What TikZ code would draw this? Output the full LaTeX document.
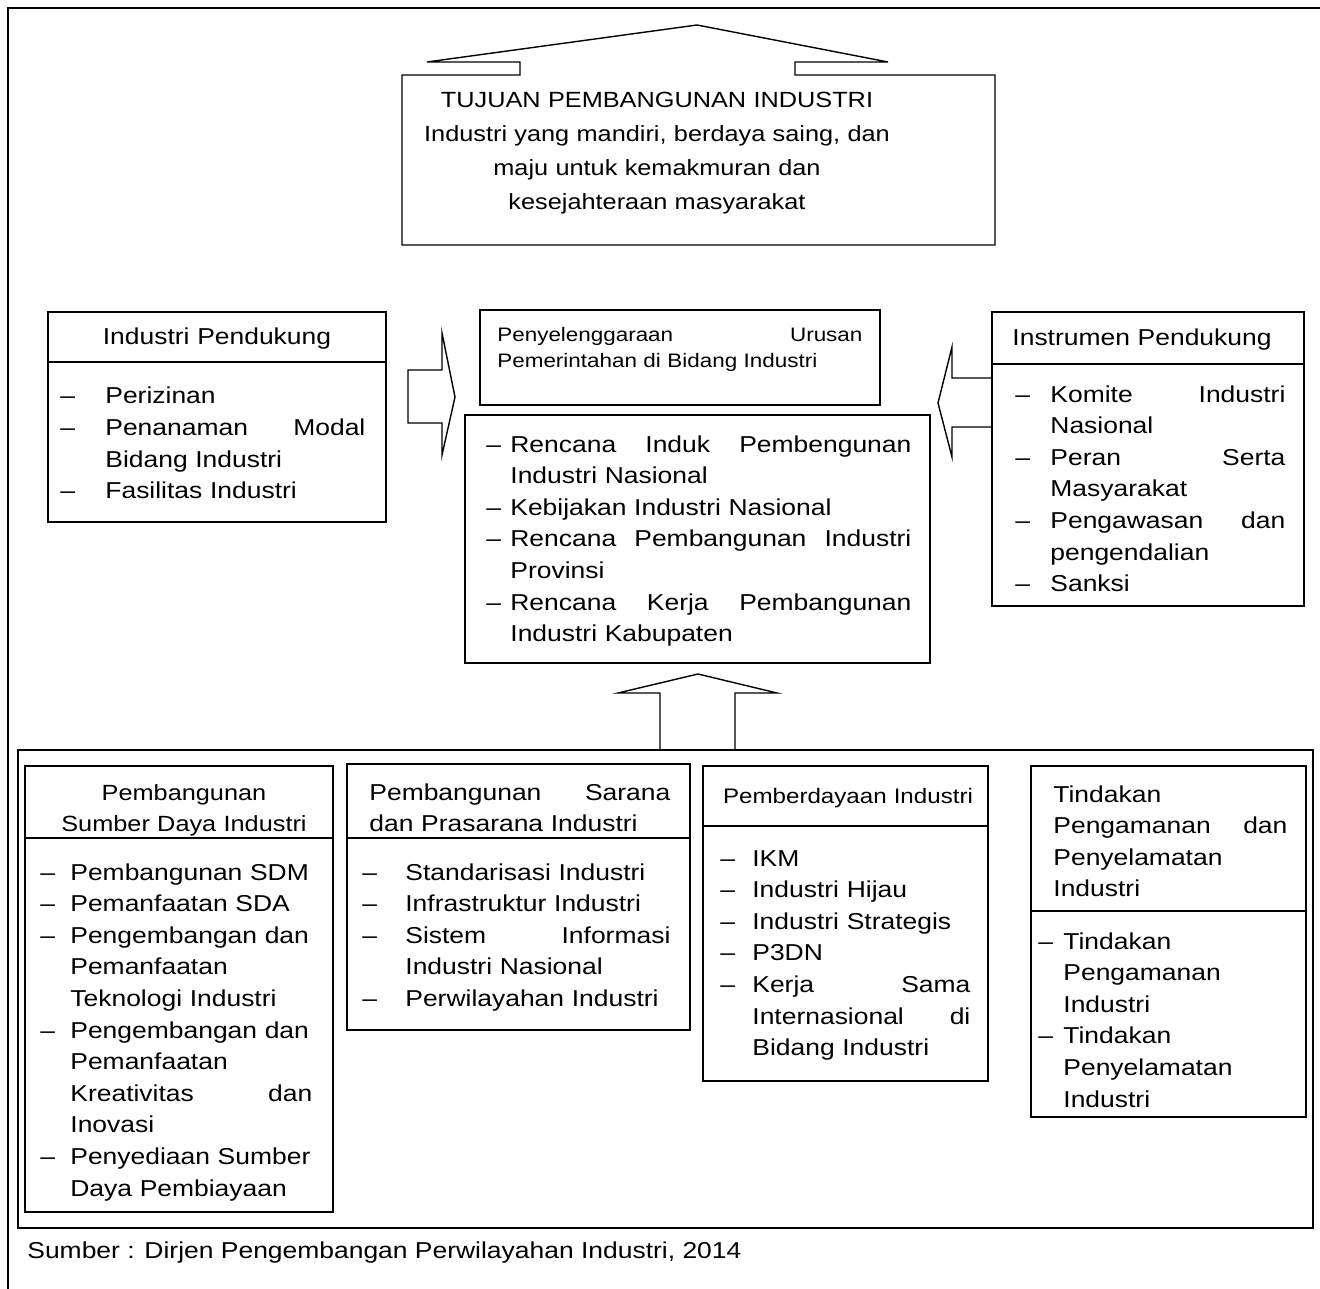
\documentclass[tikz,border=0pt]{standalone}
\usepackage{fontspec}
\setmainfont{Liberation Sans}[FakeStretch=1.15]
\usetikzlibrary{fit}
\newlength\dw
\newlength\tw
\newcommand{\jst}[1]{\makebox[\tw][s]{\spaceskip=.28em plus 1fil\relax #1}}
\newcommand{\itm}[1]{\makebox[\dw][l]{–}#1}
\newcommand{\cnt}[1]{\hspace*{\dw}#1}
\newcommand{\itmj}[1]{\makebox[\dw][l]{–}\jst{#1}}
\newcommand{\cntj}[1]{\hspace*{\dw}\jst{#1}}
\tikzset{
  frame/.style={draw, line width=1.2pt},
  boxline/.style={draw, line width=0.7pt},
  boxn/.style={draw, line width=0.7pt, inner sep=0pt},
  lst/.style 2 args={anchor=base west, inner sep=0pt, text width=10cm, align=left,
    font={\fontsize{11.5}{15.8}\selectfont\setlength\dw{#1}\setlength\tw{#2}}},
  ttl/.style={anchor=base, inner sep=0pt, text width=250pt, align=center, font=\fontsize{11.5}{15.5}\selectfont},
}
\begin{document}
\begin{tikzpicture}[x=0.5pt,y=-0.5pt]
\useasboundingbox (0,0) rectangle (1320,1288);
% outer frame (extends beyond right and bottom edges)
\draw[frame] (8,1400) -- (8,8) -- (1400,8);

% top goal box with up arrow
\draw[boxline] (402,75) -- (520,75) -- (520,62) -- (427,62) -- (697,25) -- (888,62)
  -- (795,62) -- (795,75) -- (995,75) -- (995,245) -- (402,245) -- cycle;
\node[fit={(402,75)(995,245)}, inner sep=0pt] (goal) {};
\node[anchor=base, inner sep=0pt, text width=300pt, align=center, font=\fontsize{11}{17}\selectfont] (goaltxt) at (657,108)
  {TUJUAN PEMBANGUNAN INDUSTRI\\Industri yang mandiri, berdaya saing, dan\\maju untuk kemakmuran dan\\kesejahteraan masyarakat};

% left box: Industri Pendukung
\node[boxn, fit={(48,312)(386,362)}] (ipH) {};
\node[boxn, fit={(48,362)(386,522)}] (ipB) {};
\node[ttl] (ipT) at (217,345) {Industri Pendukung};
\node[lst={22.5pt}{130pt}] (ipL) at (60,404)
  {\itm{Perizinan}\\\itmj{Penanaman Modal}\\\cnt{Bidang Industri}\\\itm{Fasilitas Industri}};

% left block arrow
\draw[boxline] (408,370) -- (442,370) -- (442,333) -- (455,397) -- (442,455) -- (442,423) -- (408,423) -- cycle;

% centre boxes
\node[boxn, fit={(480,310)(880,405)}] (pen) {};
\node[anchor=base west, inner sep=0pt, text width=10cm, align=left,
  font={\fontsize{9.75}{13}\selectfont\setlength\tw{182.5pt}}] (penT) at (497,342)
  {\jst{Penyelenggaraan Urusan}\\Pemerintahan di Bidang Industri};
\node[boxn, fit={(465,415)(930,663)}] (ren) {};
\node[lst={12pt}{200.5pt}] (renL) at (486,452)
  {\itmj{Rencana Induk Pembengunan}\\\cnt{Industri Nasional}\\\itm{Kebijakan Industri Nasional}\\\itmj{Rencana Pembangunan Industri}\\\cnt{Provinsi}\\\itmj{Rencana Kerja Pembangunan}\\\cnt{Industri Kabupaten}};

% right block arrow
\draw[boxline] (992,378) -- (952,378) -- (952,347) -- (938,403) -- (952,457) -- (952,427) -- (992,427);

% right box: Instrumen Pendukung
\node[boxn, fit={(992,312)(1304,364)}] (insH) {};
\node[boxn, fit={(992,364)(1304,606)}] (insB) {};
\node[ttl] (insT) at (1142,346) {Instrumen Pendukung};
\node[lst={17.5pt}{117.5pt}] (insL) at (1015,402)
  {\itmj{Komite Industri}\\\cnt{Nasional}\\\itmj{Peran Serta}\\\cnt{Masyarakat}\\\itmj{Pengawasan dan}\\\cnt{pengendalian}\\\itm{Sanksi}};

% bottom container and up arrow
\node[boxn, fit={(18,750)(1313,1228)}] (base) {};
\draw[boxline] (660,750) -- (660,693) -- (618,693) -- (698,674) -- (777,693) -- (735,693) -- (735,750);

% B1
\node[boxn, fit={(25,766)(333,838)}] (b1H) {};
\node[boxn, fit={(25,838)(333,1212)}] (b1B) {};
\node[ttl, font=\fontsize{11}{15.5}\selectfont] (b1T) at (184,800) {Pembangunan\\Sumber Daya Industri};
\node[lst={15pt}{121pt}] (b1L) at (40,880)
  {\itm{Pembangunan SDM}\\\itm{Pemanfaatan SDA}\\\itm{Pengembangan dan}\\\cnt{Pemanfaatan}\\\cnt{Teknologi Industri}\\\itm{Pengembangan dan}\\\cnt{Pemanfaatan}\\\cntj{Kreativitas dan}\\\cnt{Inovasi}\\\itm{Penyediaan Sumber}\\\cnt{Daya Pembiayaan}};

% B2
\node[boxn, fit={(347,764)(690,838)}] (b2H) {};
\node[boxn, fit={(347,838)(690,1030)}] (b2B) {};
\node[lst={0pt}{150.5pt}] (b2T) at (369,800) {\jst{Pembangunan Sarana}\\dan Prasarana Industri};
\node[lst={21.5pt}{132.5pt}] (b2L) at (362,880)
  {\itm{Standarisasi Industri}\\\itm{Infrastruktur Industri}\\\itmj{Sistem Informasi}\\\cnt{Industri Nasional}\\\itm{Perwilayahan Industri}};

% B3
\node[boxn, fit={(703,766)(988,826)}] (b3H) {};
\node[boxn, fit={(703,826)(988,1081)}] (b3B) {};
\node[ttl, font=\fontsize{10.5}{15.5}\selectfont] (b3T) at (848,803) {Pemberdayaan Industri};
\node[lst={16pt}{109pt}] (b3L) at (720,866)
  {\itm{IKM}\\\itm{Industri Hijau}\\\itm{Industri Strategis}\\\itm{P3DN}\\\itmj{Kerja Sama}\\\cntj{Internasional di}\\\cnt{Bidang Industri}};

% B4
\node[boxn, fit={(1031,766)(1306,911)}] (b4H) {};
\node[boxn, fit={(1031,911)(1306,1117)}] (b4B) {};
\node[lst={0pt}{117pt}] (b4T) at (1053,802) {Tindakan\\\jst{Pengamanan dan}\\Penyelamatan\\Industri};
\node[lst={12.5pt}{110pt}] (b4L) at (1038,949)
  {\itm{Tindakan}\\\cnt{Pengamanan}\\\cnt{Industri}\\\itm{Tindakan}\\\cnt{Penyelamatan}\\\cnt{Industri}};

% caption
\node[anchor=base west, inner sep=0pt, font=\fontsize{11.5}{15.8}\selectfont] (src) at (27,1258)
  {Sumber : Dirjen Pengembangan Perwilayahan Industri, 2014};
\end{tikzpicture}
\end{document}
